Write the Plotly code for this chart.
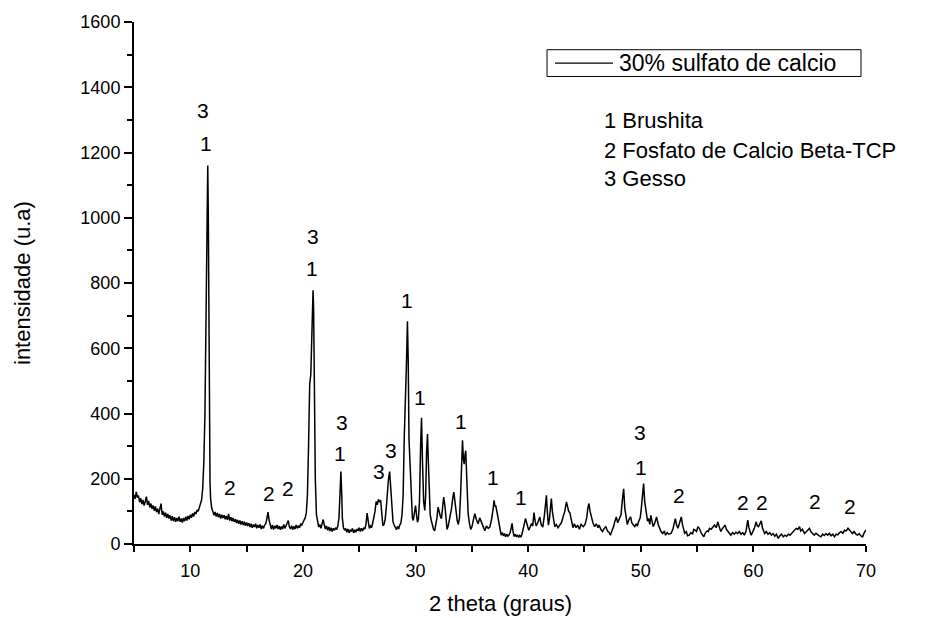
import plotly.graph_objects as go

# ---- data (2-theta in degrees, intensity in a.u.) ----
seg_5_12 = [
    (5.0, 150), (5.1, 138), (5.2, 160), (5.3, 142), (5.4, 148), (5.5, 128), (5.6, 140), (5.7, 122),
    (5.8, 135), (5.9, 118), (6.0, 130), (6.1, 145), (6.2, 120), (6.3, 132), (6.4, 112), (6.5, 124),
    (6.6, 108), (6.7, 118), (6.8, 102), (6.9, 115), (7.0, 98), (7.1, 108), (7.2, 92), (7.3, 104),
    (7.4, 124), (7.5, 90), (7.6, 100), (7.7, 84), (7.8, 96), (7.9, 80), (8.0, 92), (8.1, 78),
    (8.2, 88), (8.3, 72), (8.4, 85), (8.5, 70), (8.6, 82), (8.7, 68), (8.8, 80), (8.9, 70),
    (9.0, 84), (9.1, 68), (9.2, 78), (9.3, 66), (9.4, 80), (9.5, 70), (9.6, 84), (9.7, 72),
    (9.8, 86), (9.9, 76), (10.0, 90), (10.1, 80), (10.2, 94), (10.3, 84), (10.4, 98), (10.5, 92),
    (10.6, 104), (10.7, 100), (10.8, 112), (10.9, 120), (11.0, 135), (11.1, 170), (11.2, 250),
    (11.3, 400), (11.4, 750), (11.5, 1120), (11.55, 1160), (11.6, 1000), (11.65, 600), (11.7, 300),
    (11.75, 190), (11.8, 140), (11.9, 110),
]
seg_12_20 = [
    (12.0, 100), (12.1, 88), (12.2, 98), (12.3, 84), (12.4, 95), (12.5, 82), (12.6, 92), (12.7, 78),
    (12.8, 90), (12.9, 80), (13.0, 88), (13.1, 76), (13.2, 86), (13.3, 74), (13.4, 92), (13.5, 72),
    (13.6, 82), (13.7, 70), (13.8, 80), (13.9, 68), (14.0, 76), (14.1, 64), (14.2, 74), (14.3, 62),
    (14.4, 72), (14.5, 60), (14.6, 70), (14.7, 58), (14.8, 68), (14.9, 56), (15.0, 66), (15.1, 55),
    (15.2, 64), (15.3, 52), (15.4, 62), (15.5, 50), (15.6, 60), (15.7, 52), (15.8, 62), (15.9, 48),
    (16.0, 58), (16.1, 50), (16.2, 60), (16.3, 46), (16.4, 56), (16.5, 48), (16.6, 58), (16.7, 62),
    (16.8, 78), (16.9, 98), (17.0, 72), (17.1, 55), (17.2, 46), (17.3, 58), (17.4, 44), (17.5, 56),
    (17.6, 48), (17.7, 58), (17.8, 46), (17.9, 55), (18.0, 44), (18.1, 54), (18.2, 46), (18.3, 60),
    (18.4, 48), (18.5, 56), (18.6, 62), (18.7, 72), (18.8, 52), (18.9, 46), (19.0, 56), (19.1, 44),
    (19.2, 54), (19.3, 46), (19.4, 58), (19.5, 48), (19.6, 56), (19.7, 50), (19.8, 62), (19.9, 58),
    (20.0, 66), (20.1, 72), (20.2, 80),
]
seg_20_29 = [
    (20.3, 95), (20.4, 150), (20.5, 300), (20.6, 489), (20.7, 520), (20.8, 650), (20.9, 778),
    (20.95, 720), (21.0, 500), (21.1, 200), (21.2, 90), (21.3, 65), (21.4, 52), (21.5, 60),
    (21.6, 48), (21.7, 62), (21.8, 75), (21.9, 58), (22.0, 46), (22.1, 55), (22.2, 42), (22.3, 52),
    (22.4, 40), (22.5, 50), (22.6, 38), (22.7, 48), (22.8, 42), (22.9, 50), (23.0, 44), (23.1, 55),
    (23.2, 80), (23.3, 160), (23.37, 222), (23.45, 150), (23.5, 80), (23.6, 50), (23.7, 42),
    (23.8, 48), (23.9, 36), (24.0, 46), (24.1, 34), (24.2, 44), (24.3, 38), (24.4, 48), (24.5, 34),
    (24.6, 44), (24.7, 36), (24.8, 46), (24.9, 40), (25.0, 50), (25.1, 38), (25.2, 48), (25.3, 40),
    (25.4, 50), (25.5, 46), (25.6, 60), (25.7, 95), (25.8, 70), (25.9, 48), (26.0, 55), (26.1, 50),
    (26.2, 65), (26.3, 80), (26.4, 100), (26.5, 130), (26.6, 120), (26.7, 137), (26.8, 128),
    (26.9, 135), (27.0, 90), (27.1, 56), (27.2, 60), (27.3, 75), (27.4, 110), (27.5, 160),
    (27.6, 200), (27.7, 222), (27.8, 170), (27.9, 100), (28.0, 68), (28.1, 58), (28.2, 50),
    (28.3, 44), (28.4, 54), (28.5, 46), (28.6, 58), (28.7, 64), (28.8, 90), (28.9, 150),
]
seg_29_40 = [
    (29.0, 330), (29.1, 499), (29.2, 560), (29.28, 683), (29.35, 560), (29.42, 320), (29.5, 266),
    (29.58, 205), (29.65, 130), (29.72, 80), (29.8, 72), (29.9, 90), (30.0, 118), (30.1, 85),
    (30.17, 67), (30.25, 75), (30.35, 130), (30.45, 300), (30.53, 387), (30.62, 250), (30.72, 130),
    (30.82, 103), (30.9, 150), (30.98, 280), (31.06, 337), (31.14, 250), (31.22, 130), (31.3, 90),
    (31.4, 72), (31.5, 55), (31.6, 45), (31.7, 40), (31.8, 55), (31.9, 80), (32.0, 113), (32.1, 95),
    (32.2, 85), (32.3, 78), (32.4, 110), (32.5, 144), (32.6, 120), (32.7, 70), (32.8, 45),
    (32.9, 55), (33.0, 70), (33.1, 95), (33.2, 110), (33.3, 140), (33.4, 159), (33.5, 130),
    (33.6, 90), (33.7, 72), (33.8, 60), (33.9, 80), (34.0, 150), (34.1, 270), (34.17, 318),
    (34.25, 260), (34.32, 245), (34.4, 275), (34.46, 286), (34.55, 200), (34.67, 93), (34.8, 60),
    (34.9, 45), (35.0, 52), (35.1, 70), (35.26, 93), (35.4, 75), (35.56, 62), (35.7, 80),
    (35.86, 67), (36.0, 55), (36.15, 41), (36.3, 55), (36.45, 48), (36.6, 52), (36.75, 75),
    (36.9, 110), (36.97, 134), (37.05, 115), (37.12, 118), (37.25, 95), (37.39, 72), (37.5, 45),
    (37.6, 27), (37.7, 35), (37.8, 25), (37.9, 32), (38.0, 22), (38.1, 30), (38.2, 24), (38.3, 28),
    (38.4, 35), (38.5, 50), (38.57, 63), (38.65, 40), (38.75, 23), (38.85, 30), (38.95, 22),
    (39.05, 28), (39.15, 20), (39.25, 26), (39.35, 21), (39.45, 30), (39.55, 42), (39.65, 60),
    (39.76, 78), (39.85, 65), (39.95, 55),
]
seg_40_55 = [
    (40.05, 42), (40.15, 50), (40.3, 63), (40.4, 55), (40.52, 96), (40.62, 70), (40.72, 55),
    (40.85, 65), (41.03, 83), (41.15, 60), (41.3, 52), (41.45, 90), (41.55, 130), (41.62, 149),
    (41.7, 100), (41.8, 58), (41.9, 80), (42.0, 120), (42.06, 139), (42.15, 100), (42.25, 70),
    (42.36, 53), (42.5, 60), (42.65, 50), (42.8, 58), (42.95, 65), (43.1, 83), (43.25, 100),
    (43.4, 129), (43.5, 110), (43.6, 100), (43.7, 96), (43.85, 70), (43.98, 50), (44.1, 62),
    (44.25, 50), (44.4, 58), (44.55, 45), (44.7, 60), (44.9, 53), (45.05, 60), (45.2, 80),
    (45.3, 110), (45.4, 124), (45.5, 100), (45.6, 83), (45.75, 65), (45.9, 53), (46.05, 62),
    (46.2, 50), (46.3, 58), (46.45, 45), (46.6, 38), (46.75, 48), (46.9, 53), (47.05, 40),
    (47.2, 35), (47.3, 27), (47.45, 40), (47.6, 55), (47.7, 70), (47.83, 83), (47.95, 65),
    (48.1, 78), (48.25, 90), (48.35, 130), (48.48, 169), (48.58, 110), (48.7, 73), (48.8, 60),
    (48.95, 75), (49.1, 83), (49.2, 65), (49.35, 60), (49.47, 53), (49.6, 62), (49.7, 55),
    (49.8, 68), (49.95, 80), (50.05, 110), (50.15, 150), (50.25, 185), (50.35, 130), (50.5, 96),
    (50.6, 70), (50.7, 78), (50.8, 60), (50.9, 88), (51.0, 70), (51.1, 53), (51.25, 65),
    (51.4, 83), (51.55, 60), (51.7, 45), (51.8, 38), (51.95, 32), (52.1, 40), (52.2, 27),
    (52.35, 35), (52.5, 30), (52.7, 33), (52.85, 45), (52.95, 60), (53.07, 78), (53.17, 60),
    (53.3, 48), (53.45, 65), (53.6, 83), (53.7, 60), (53.8, 40), (53.9, 33), (54.05, 38),
    (54.15, 25), (54.3, 27), (54.45, 35), (54.6, 30), (54.7, 45), (54.8, 43), (54.95, 38),
]
seg_55_70 = [
    (55.07, 53), (55.2, 48), (55.35, 35), (55.5, 28), (55.6, 22), (55.75, 35), (55.9, 40),
    (56.0, 38), (56.1, 48), (56.25, 45), (56.4, 52), (56.55, 58), (56.7, 50), (56.85, 68),
    (56.95, 55), (57.1, 38), (57.2, 45), (57.35, 50), (57.5, 58), (57.6, 45), (57.75, 38),
    (57.9, 33), (58.0, 27), (58.15, 35), (58.3, 30), (58.45, 36), (58.6, 32), (58.75, 38),
    (58.9, 30), (59.05, 35), (59.2, 27), (59.35, 40), (59.5, 73), (59.6, 50), (59.7, 35),
    (59.8, 27), (59.95, 38), (60.1, 50), (60.25, 68), (60.35, 55), (60.45, 53), (60.55, 62),
    (60.7, 71), (60.8, 50), (60.9, 40), (61.0, 32), (61.15, 38), (61.3, 30), (61.45, 35),
    (61.6, 27), (61.75, 32), (61.9, 24), (62.05, 30), (62.2, 17), (62.35, 25), (62.5, 30),
    (62.65, 22), (62.8, 27), (62.95, 24), (63.1, 30), (63.25, 27), (63.4, 32), (63.55, 38),
    (63.7, 42), (63.8, 48), (63.95, 45), (64.1, 53), (64.2, 40), (64.35, 45), (64.55, 32),
    (64.7, 38), (64.85, 42), (64.98, 48), (65.1, 38), (65.25, 32), (65.4, 27), (65.55, 33),
    (65.7, 28), (65.85, 25), (66.0, 22), (66.15, 30), (66.3, 26), (66.45, 32), (66.6, 27),
    (66.75, 33), (66.9, 25), (67.05, 30), (67.2, 22), (67.35, 30), (67.5, 28), (67.65, 35),
    (67.8, 38), (67.95, 33), (68.1, 42), (68.25, 40), (68.4, 48), (68.55, 42), (68.7, 36),
    (68.8, 32), (68.95, 38), (69.1, 30), (69.25, 27), (69.4, 32), (69.55, 25), (69.7, 22),
    (69.85, 35), (70.0, 43),
]

segments = [seg_5_12, seg_12_20, seg_20_29, seg_29_40, seg_40_55, seg_55_70]
two_theta = [p[0] for s in segments for p in s]
intensity = [p[1] for s in segments for p in s]

series_name = "30% sulfato de calcio"

# phase labels placed above peaks (x in degrees, y in intensity units)
label_text = ["3", "1", "2", "2", "2", "3", "1", "3", "1", "3", "3", "1", "1", "1",
              "1", "1", "3", "1", "2", "2", "2", "2", "2"]
label_x = [11.15, 11.39, 13.5, 17.0, 18.7, 20.9, 20.77, 23.5, 23.28, 26.77, 27.78, 29.25,
           30.38, 34.0, 36.9, 39.4, 49.9, 50.05, 53.36, 59.07, 60.78, 65.43, 68.6]
label_y = [1330, 1229, 172, 154, 169, 943, 844, 372, 276, 223, 286, 747,
           448, 377, 205, 144, 342, 235, 149, 126, 126, 129, 114]

phase_key = ["1 Brushita", "2 Fosfato de Calcio Beta-TCP", "3 Gesso"]

x_title = "2 theta (graus)"
y_title = "intensidade (u.a)"

# ---- figure ----
FONT = "Liberation Sans, Arial, sans-serif"
W, H = 947, 618
ML, MR, MT, MB = 134, 81, 17, 74
PW, PH = W - ML - MR, H - MT - MB


def px_to_paper_x(px):
    return (px - ML) / PW


def px_to_paper_y(py):
    return (H - MB - py) / PH


fig = go.Figure()
fig.add_trace(go.Scatter(
    x=two_theta, y=intensity, mode="lines", name=series_name,
    line=dict(color="black", width=1.5), showlegend=False,
))

annotations = []
for t, xv, yv in zip(label_text, label_x, label_y):
    annotations.append(dict(x=xv, y=yv, xref="x", yref="y", text=t, showarrow=False,
                            font=dict(family=FONT, size=21, color="black"),
                            xanchor="center", yanchor="middle"))

key_y_px = [116, 146.7, 175]
for t, py in zip(phase_key, key_y_px):
    annotations.append(dict(x=px_to_paper_x(602), y=px_to_paper_y(py), xref="paper", yref="paper",
                            text=t, showarrow=False, font=dict(family=FONT, size=22, color="black"),
                            xanchor="left", yanchor="middle"))

# legend (drawn as a boxed key)
annotations.append(dict(x=px_to_paper_x(617), y=px_to_paper_y(58.5), xref="paper", yref="paper",
                        text=series_name, showarrow=False,
                        font=dict(family=FONT, size=23, color="black"),
                        xanchor="left", yanchor="middle"))

# axis titles
annotations.append(dict(x=0.5, y=px_to_paper_y(604), xref="paper", yref="paper", text=x_title,
                        showarrow=False, font=dict(family=FONT, size=22, color="black"),
                        xanchor="center", yanchor="middle"))
annotations.append(dict(x=px_to_paper_x(22), y=0.5, xref="paper", yref="paper", text=y_title,
                        showarrow=False, textangle=-90,
                        font=dict(family=FONT, size=22, color="black"),
                        xanchor="center", yanchor="middle"))

shapes = [
    dict(type="rect", xref="paper", yref="paper",
         x0=px_to_paper_x(547), x1=px_to_paper_x(861),
         y0=px_to_paper_y(72), y1=px_to_paper_y(45),
         line=dict(color="black", width=1), fillcolor="white", layer="above"),
    dict(type="line", xref="paper", yref="paper",
         x0=px_to_paper_x(555), x1=px_to_paper_x(613),
         y0=px_to_paper_y(58.5), y1=px_to_paper_y(58.5),
         line=dict(color="black", width=1.3), layer="above"),
]

fig.update_layout(
    width=W, height=H,
    margin=dict(l=ML, r=MR, t=MT, b=MB, pad=0),
    paper_bgcolor="white", plot_bgcolor="white",
    font=dict(family=FONT, color="black"),
    annotations=annotations, shapes=shapes,
    showlegend=False,
)
fig.update_xaxes(
    range=[5, 70], tick0=0, dtick=10, showgrid=False, zeroline=False,
    showline=True, linecolor="black", linewidth=2,
    ticks="outside", ticklen=6, tickwidth=1.5, tickcolor="black",
    minor=dict(ticks="outside", dtick=5, tick0=0, ticklen=6, tickwidth=1.5, tickcolor="black"),
    tickfont=dict(family=FONT, size=18, color="black"), ticklabelstandoff=3,
)
fig.update_yaxes(
    range=[0, 1600], tick0=0, dtick=200, showgrid=False, zeroline=False,
    showline=True, linecolor="black", linewidth=2,
    ticks="outside", ticklen=8, tickwidth=1.5, tickcolor="black",
    minor=dict(ticks="outside", dtick=100, tick0=0, ticklen=5, tickwidth=1.5, tickcolor="black"),
    tickfont=dict(family=FONT, size=18, color="black"),
)

fig.write_html("out.html")
